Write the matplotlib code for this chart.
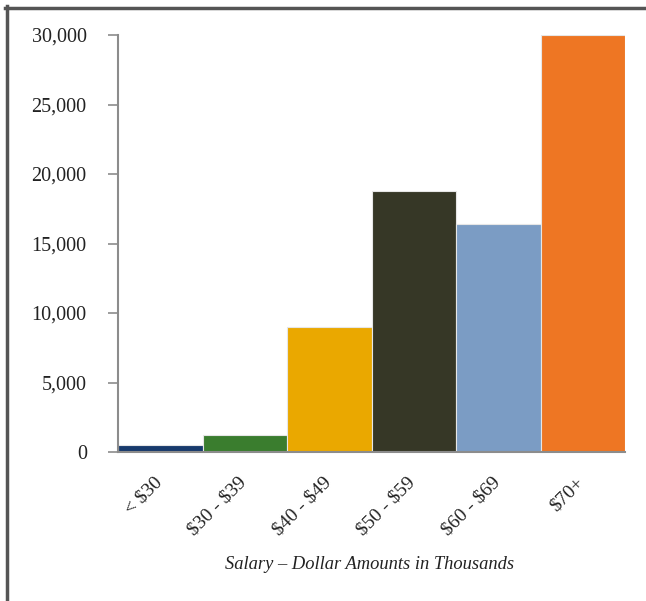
import matplotlib
matplotlib.use("Agg")
import matplotlib.pyplot as plt
from matplotlib.lines import Line2D
from matplotlib.ticker import FuncFormatter
from matplotlib.transforms import ScaledTranslation

categories = ["< $30", "$30 - $39", "$40 - $49", "$50 - $59", "$60 - $69", "$70+"]
values = [500, 1200, 9000, 18800, 16400, 30000]
colors = ["#173a6c", "#3a7d2e", "#eaa800", "#363726", "#7b9cc4", "#ee7623"]
yticks = [0, 5000, 10000, 15000, 20000, 25000, 30000]

plt.rcParams['font.family'] = ['Liberation Serif', 'DejaVu Serif']
plt.rcParams['text.parse_math'] = False

W, H = 646, 601
fig = plt.figure(figsize=(W / 100, H / 100), dpi=100)
ax = fig.add_axes([118 / W, 1 - 452 / H, (625 - 118) / W, (452 - 35) / H])

x = list(range(len(categories)))
ax.bar(x, values, width=1.0, color=colors, edgecolor="#e6e6e6", linewidth=0.8, zorder=2)
ax.set_xlim(-0.5, len(categories) - 0.5)
ax.set_ylim(0, 30000)
ax.set_yticks(yticks)
ax.yaxis.set_major_formatter(FuncFormatter(lambda v, p: f"{int(v):,}"))
ax.set_xticks(x)
ax.set_xticklabels(categories, rotation=45, ha="right", rotation_mode="anchor",
                   fontsize=14, color="#222222")
ax.tick_params(axis="x", length=0, pad=16)
ax.tick_params(axis="y", length=7.5, width=1.2, color="#8c8c8c", labelsize=14.5,
               labelcolor="#222222", pad=15)
for s in ["top", "right"]:
    ax.spines[s].set_visible(False)
for s in ["left", "bottom"]:
    ax.spines[s].set_color("#8c8c8c")
    ax.spines[s].set_linewidth(1.5)
ax.set_xlabel("Salary – Dollar Amounts in Thousands", fontstyle="italic", fontsize=13.3,
              color="#222222")
ax.xaxis.set_label_coords((370 - 118) / (625 - 118), -(556 - 452) / (452 - 35))

shift = ScaledTranslation(-0.07, 0.0, fig.dpi_scale_trans)
for lab in ax.get_xticklabels():
    lab.set_transform(lab.get_transform() + shift)

# frame lines
fig.add_artist(Line2D([5 / W, 1], [1 - 7.5 / H, 1 - 7.5 / H], transform=fig.transFigure,
                      color="#555555", linewidth=2.5))
fig.add_artist(Line2D([7 / W, 7 / W], [0, 1 - 6 / H], transform=fig.transFigure,
                      color="#555555", linewidth=2.5))

fig.savefig("out.png", dpi=100)
